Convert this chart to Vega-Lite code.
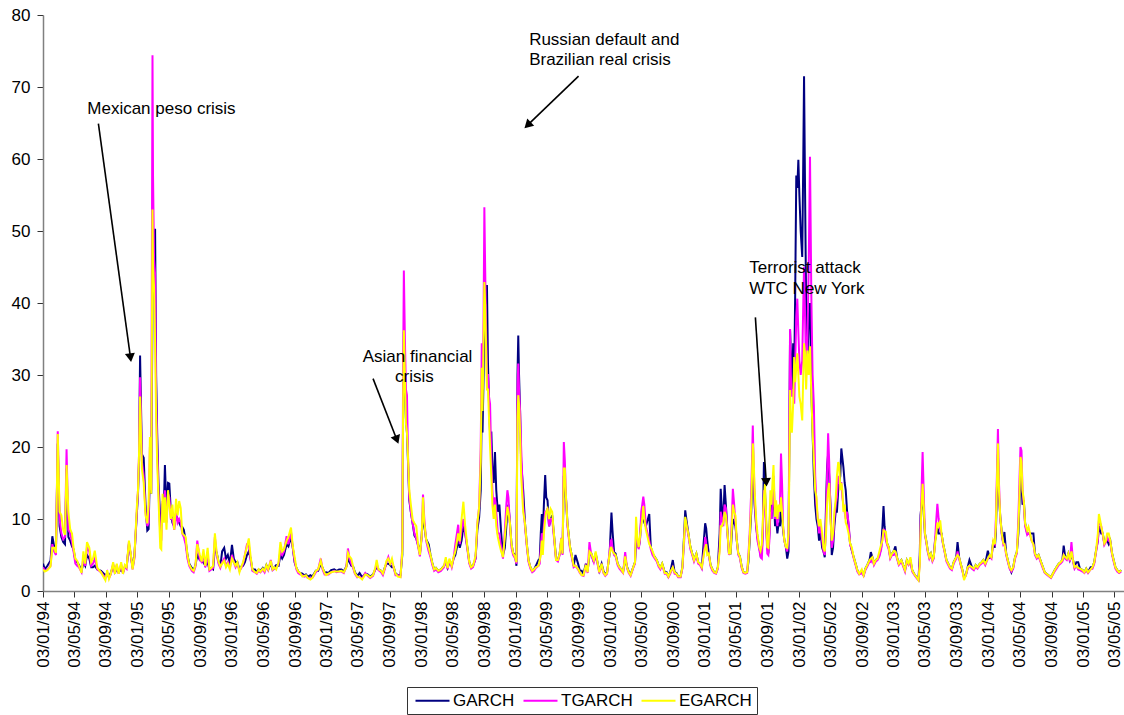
{
  "$schema": "https://vega.github.io/schema/vega-lite/v6.json",
  "width": 1081,
  "height": 576,
  "autosize": {"type": "none"},
  "padding": {"left": 43, "top": 15, "right": 0, "bottom": 124},
  "background": "white",
  "config": {
    "font": "Liberation Sans",
    "view": {"stroke": null},
    "axis": {"labelFontSize": 17, "labelColor": "black", "labelFont": "Liberation Sans", "grid": false, "tickSize": 6, "tickColor": "#333333", "domainColor": "#808080", "domainWidth": 1.5}
  },
  "datasets": {
    "vol": [
{"d":"1994-01-03","g":3.8,"t":3.3,"e":3.0},
{"d":"1994-01-10","g":3.0,"t":2.8,"e":2.7},
{"d":"1994-01-20","g":3.5,"t":3.0,"e":2.9},
{"d":"1994-02-01","g":4.2,"t":3.5,"e":3.4},
{"d":"1994-02-08","g":7.6,"t":6.5,"e":6.0},
{"d":"1994-02-15","g":6.2,"t":5.5,"e":6.0},
{"d":"1994-02-22","g":5.8,"t":5.0,"e":5.3},
{"d":"1994-03-01","g":20.5,"t":22.2,"e":21.8},
{"d":"1994-03-08","g":9.0,"t":10.0,"e":11.0},
{"d":"1994-03-15","g":7.5,"t":8.0,"e":10.5},
{"d":"1994-03-22","g":6.8,"t":7.2,"e":8.5},
{"d":"1994-03-29","g":6.5,"t":7.5,"e":7.8},
{"d":"1994-04-04","g":17.0,"t":19.7,"e":17.5},
{"d":"1994-04-11","g":7.5,"t":8.5,"e":11.0},
{"d":"1994-04-18","g":7.0,"t":8.0,"e":8.6},
{"d":"1994-04-25","g":6.2,"t":6.8,"e":8.0},
{"d":"1994-05-01","g":5.8,"t":5.5,"e":6.0},
{"d":"1994-05-08","g":4.3,"t":3.8,"e":4.5},
{"d":"1994-05-15","g":4.0,"t":3.5,"e":4.2},
{"d":"1994-05-22","g":3.6,"t":3.3,"e":3.5},
{"d":"1994-06-01","g":2.8,"t":2.6,"e":2.5},
{"d":"1994-06-08","g":4.0,"t":4.6,"e":5.5},
{"d":"1994-06-15","g":3.5,"t":3.5,"e":3.8},
{"d":"1994-06-22","g":5.0,"t":6.0,"e":6.8},
{"d":"1994-07-01","g":4.5,"t":5.5,"e":6.0},
{"d":"1994-07-08","g":3.3,"t":3.5,"e":4.0},
{"d":"1994-07-15","g":3.3,"t":3.8,"e":4.5},
{"d":"1994-07-22","g":3.5,"t":4.5,"e":5.6},
{"d":"1994-08-01","g":3.0,"t":3.0,"e":3.2},
{"d":"1994-08-15","g":2.8,"t":2.6,"e":2.6},
{"d":"1994-09-01","g":2.2,"t":1.8,"e":1.5},
{"d":"1994-09-08","g":2.4,"t":2.6,"e":2.9},
{"d":"1994-09-15","g":2.0,"t":1.8,"e":1.7},
{"d":"1994-09-22","g":2.5,"t":2.3,"e":2.4},
{"d":"1994-10-01","g":3.5,"t":3.8,"e":4.0},
{"d":"1994-10-08","g":2.6,"t":2.4,"e":2.4},
{"d":"1994-10-15","g":3.0,"t":3.6,"e":3.8},
{"d":"1994-10-22","g":2.6,"t":2.4,"e":2.4},
{"d":"1994-11-01","g":3.0,"t":3.7,"e":4.0},
{"d":"1994-11-08","g":2.6,"t":2.4,"e":2.4},
{"d":"1994-11-15","g":3.3,"t":3.4,"e":3.6},
{"d":"1994-11-22","g":3.3,"t":3.1,"e":3.3},
{"d":"1994-12-01","g":6.5,"t":6.8,"e":7.0},
{"d":"1994-12-08","g":5.0,"t":5.0,"e":5.2},
{"d":"1994-12-15","g":3.3,"t":3.0,"e":3.0},
{"d":"1994-12-22","g":4.8,"t":4.5,"e":4.7},
{"d":"1995-01-01","g":11.0,"t":11.5,"e":12.0},
{"d":"1995-01-05","g":13.5,"t":14.0,"e":14.0},
{"d":"1995-01-09","g":18.0,"t":19.0,"e":19.1},
{"d":"1995-01-13","g":32.7,"t":29.7,"e":27.0},
{"d":"1995-01-20","g":19.0,"t":18.0,"e":17.0},
{"d":"1995-01-27","g":18.5,"t":16.0,"e":15.0},
{"d":"1995-02-03","g":12.0,"t":11.0,"e":10.5},
{"d":"1995-02-10","g":8.4,"t":9.0,"e":9.4},
{"d":"1995-02-15","g":8.6,"t":9.5,"e":12.0},
{"d":"1995-02-20","g":17.0,"t":20.0,"e":21.4},
{"d":"1995-02-25","g":13.5,"t":14.0,"e":13.5},
{"d":"1995-03-02","g":40.0,"t":74.4,"e":53.0},
{"d":"1995-03-04","g":42.0,"t":57.7,"e":45.0},
{"d":"1995-03-08","g":45.0,"t":46.0,"e":42.2},
{"d":"1995-03-12","g":50.3,"t":44.0,"e":34.6},
{"d":"1995-03-16","g":30.0,"t":27.0,"e":24.0},
{"d":"1995-03-20","g":22.0,"t":20.0,"e":18.0},
{"d":"1995-03-25","g":15.0,"t":14.0,"e":13.0},
{"d":"1995-04-01","g":10.0,"t":8.0,"e":6.0},
{"d":"1995-04-05","g":9.0,"t":7.0,"e":5.8},
{"d":"1995-04-10","g":12.0,"t":12.5,"e":13.5},
{"d":"1995-04-15","g":12.0,"t":11.0,"e":9.5},
{"d":"1995-04-19","g":17.5,"t":14.0,"e":13.0},
{"d":"1995-04-25","g":11.0,"t":9.5,"e":8.5},
{"d":"1995-05-01","g":15.0,"t":13.5,"e":14.0},
{"d":"1995-05-06","g":14.9,"t":13.0,"e":12.0},
{"d":"1995-05-12","g":11.0,"t":10.0,"e":10.0},
{"d":"1995-05-18","g":9.5,"t":10.0,"e":12.0},
{"d":"1995-05-25","g":9.0,"t":8.5,"e":8.5},
{"d":"1995-06-01","g":10.5,"t":11.0,"e":12.8},
{"d":"1995-06-07","g":10.0,"t":9.5,"e":10.5},
{"d":"1995-06-13","g":9.5,"t":10.0,"e":12.5},
{"d":"1995-06-19","g":9.0,"t":9.5,"e":11.5},
{"d":"1995-06-25","g":8.9,"t":8.0,"e":8.0},
{"d":"1995-07-01","g":8.5,"t":7.5,"e":7.8},
{"d":"1995-07-08","g":7.0,"t":6.5,"e":7.5},
{"d":"1995-07-15","g":5.0,"t":4.5,"e":5.0},
{"d":"1995-07-22","g":3.8,"t":3.5,"e":3.7},
{"d":"1995-08-01","g":3.2,"t":2.8,"e":3.0},
{"d":"1995-08-08","g":2.9,"t":2.6,"e":2.8},
{"d":"1995-08-15","g":3.6,"t":3.4,"e":3.6},
{"d":"1995-08-22","g":5.0,"t":7.0,"e":6.5},
{"d":"1995-09-01","g":4.3,"t":4.3,"e":5.0},
{"d":"1995-09-08","g":4.1,"t":4.0,"e":4.1},
{"d":"1995-09-15","g":4.0,"t":5.0,"e":5.8},
{"d":"1995-09-22","g":3.5,"t":3.3,"e":3.5},
{"d":"1995-10-01","g":4.0,"t":5.0,"e":6.0},
{"d":"1995-10-08","g":3.0,"t":2.8,"e":3.0},
{"d":"1995-10-15","g":3.2,"t":3.0,"e":3.2},
{"d":"1995-10-22","g":3.0,"t":3.2,"e":3.5},
{"d":"1995-10-29","g":6.0,"t":7.5,"e":8.0},
{"d":"1995-11-05","g":5.3,"t":5.0,"e":5.3},
{"d":"1995-11-12","g":4.1,"t":3.8,"e":4.1},
{"d":"1995-11-19","g":3.4,"t":3.2,"e":3.4},
{"d":"1995-11-26","g":5.5,"t":4.0,"e":3.8},
{"d":"1995-12-04","g":6.0,"t":4.5,"e":4.2},
{"d":"1995-12-11","g":4.5,"t":3.5,"e":3.3},
{"d":"1995-12-18","g":5.0,"t":4.0,"e":3.8},
{"d":"1995-12-26","g":3.8,"t":3.2,"e":3.0},
{"d":"1996-01-03","g":6.4,"t":5.0,"e":4.5},
{"d":"1996-01-10","g":4.5,"t":4.0,"e":4.0},
{"d":"1996-01-17","g":4.0,"t":3.3,"e":3.5},
{"d":"1996-01-24","g":4.0,"t":3.8,"e":4.0},
{"d":"1996-02-01","g":3.0,"t":2.8,"e":2.6},
{"d":"1996-02-08","g":3.4,"t":3.2,"e":3.4},
{"d":"1996-02-15","g":3.5,"t":3.8,"e":4.0},
{"d":"1996-02-22","g":4.0,"t":5.0,"e":5.0},
{"d":"1996-03-01","g":5.0,"t":6.5,"e":6.2},
{"d":"1996-03-08","g":5.5,"t":6.5,"e":7.3},
{"d":"1996-03-15","g":4.5,"t":4.3,"e":4.8},
{"d":"1996-03-22","g":3.0,"t":2.8,"e":3.0},
{"d":"1996-04-01","g":3.0,"t":2.6,"e":2.6},
{"d":"1996-04-08","g":2.6,"t":2.4,"e":2.5},
{"d":"1996-04-15","g":3.0,"t":2.8,"e":3.0},
{"d":"1996-04-22","g":2.8,"t":2.6,"e":2.7},
{"d":"1996-05-01","g":3.2,"t":3.0,"e":3.1},
{"d":"1996-05-08","g":2.8,"t":2.6,"e":2.8},
{"d":"1996-05-15","g":3.6,"t":3.4,"e":3.6},
{"d":"1996-05-22","g":3.0,"t":2.9,"e":3.0},
{"d":"1996-06-01","g":3.8,"t":4.3,"e":4.2},
{"d":"1996-06-08","g":3.0,"t":2.9,"e":3.0},
{"d":"1996-06-15","g":3.3,"t":3.1,"e":3.3},
{"d":"1996-06-22","g":3.6,"t":3.2,"e":3.0},
{"d":"1996-07-01","g":3.5,"t":3.8,"e":4.0},
{"d":"1996-07-08","g":5.0,"t":5.5,"e":6.8},
{"d":"1996-07-15","g":4.5,"t":5.0,"e":5.5},
{"d":"1996-07-22","g":5.0,"t":5.5,"e":5.8},
{"d":"1996-08-01","g":6.5,"t":7.6,"e":7.0},
{"d":"1996-08-08","g":6.2,"t":6.5,"e":7.5},
{"d":"1996-08-18","g":7.5,"t":8.2,"e":8.8},
{"d":"1996-08-25","g":6.0,"t":6.0,"e":6.2},
{"d":"1996-09-01","g":4.0,"t":4.2,"e":4.7},
{"d":"1996-09-08","g":3.2,"t":3.0,"e":3.2},
{"d":"1996-09-15","g":2.7,"t":2.5,"e":2.7},
{"d":"1996-09-22","g":2.5,"t":2.3,"e":2.5},
{"d":"1996-10-01","g":2.4,"t":2.2,"e":2.0},
{"d":"1996-10-08","g":2.2,"t":2.0,"e":2.1},
{"d":"1996-10-15","g":2.3,"t":2.1,"e":2.2},
{"d":"1996-10-22","g":2.0,"t":1.8,"e":1.8},
{"d":"1996-11-01","g":2.2,"t":1.8,"e":1.6},
{"d":"1996-11-08","g":2.0,"t":1.8,"e":1.8},
{"d":"1996-11-15","g":2.4,"t":2.2,"e":2.3},
{"d":"1996-11-22","g":2.8,"t":2.6,"e":2.8},
{"d":"1996-12-01","g":2.8,"t":3.0,"e":3.0},
{"d":"1996-12-11","g":3.8,"t":4.5,"e":4.2},
{"d":"1996-12-18","g":3.2,"t":3.0,"e":3.2},
{"d":"1996-12-26","g":2.5,"t":2.3,"e":2.5},
{"d":"1997-01-01","g":2.6,"t":2.3,"e":2.2},
{"d":"1997-01-10","g":2.5,"t":2.3,"e":2.4},
{"d":"1997-01-20","g":2.9,"t":2.6,"e":2.6},
{"d":"1997-02-01","g":3.0,"t":2.8,"e":2.7},
{"d":"1997-02-10","g":2.8,"t":2.6,"e":2.7},
{"d":"1997-02-20","g":3.0,"t":2.7,"e":2.7},
{"d":"1997-03-01","g":3.0,"t":2.7,"e":2.8},
{"d":"1997-03-10","g":2.7,"t":2.5,"e":2.6},
{"d":"1997-03-20","g":3.4,"t":3.4,"e":3.3},
{"d":"1997-03-26","g":4.5,"t":5.9,"e":5.3},
{"d":"1997-04-01","g":4.0,"t":4.5,"e":4.8},
{"d":"1997-04-08","g":3.5,"t":3.8,"e":4.5},
{"d":"1997-04-15","g":3.4,"t":3.2,"e":3.4},
{"d":"1997-04-22","g":2.6,"t":2.4,"e":2.5},
{"d":"1997-05-01","g":2.1,"t":1.9,"e":2.0},
{"d":"1997-05-10","g":2.5,"t":2.0,"e":1.9},
{"d":"1997-05-20","g":1.9,"t":1.7,"e":1.6},
{"d":"1997-06-01","g":2.4,"t":2.5,"e":2.3},
{"d":"1997-06-10","g":2.3,"t":2.1,"e":2.2},
{"d":"1997-06-20","g":2.0,"t":1.8,"e":1.9},
{"d":"1997-07-01","g":2.3,"t":2.1,"e":2.2},
{"d":"1997-07-10","g":3.0,"t":3.1,"e":3.3},
{"d":"1997-07-15","g":3.3,"t":3.8,"e":4.3},
{"d":"1997-07-22","g":3.0,"t":2.9,"e":3.0},
{"d":"1997-08-01","g":2.8,"t":2.6,"e":2.8},
{"d":"1997-08-08","g":2.4,"t":2.2,"e":2.4},
{"d":"1997-08-15","g":3.2,"t":3.0,"e":3.2},
{"d":"1997-08-22","g":3.8,"t":4.0,"e":4.2},
{"d":"1997-08-29","g":3.8,"t":4.7,"e":4.5},
{"d":"1997-09-05","g":3.6,"t":3.8,"e":3.8},
{"d":"1997-09-12","g":3.3,"t":4.0,"e":4.5},
{"d":"1997-09-19","g":3.3,"t":3.2,"e":3.3},
{"d":"1997-09-26","g":2.4,"t":2.2,"e":2.4},
{"d":"1997-10-05","g":2.2,"t":2.2,"e":2.0},
{"d":"1997-10-15","g":2.2,"t":2.0,"e":1.9},
{"d":"1997-10-22","g":5.0,"t":6.0,"e":5.5},
{"d":"1997-10-25","g":24.0,"t":30.0,"e":25.0},
{"d":"1997-10-28","g":36.0,"t":44.5,"e":36.2},
{"d":"1997-11-01","g":30.0,"t":35.0,"e":30.0},
{"d":"1997-11-05","g":24.0,"t":28.0,"e":23.3},
{"d":"1997-11-09","g":22.0,"t":27.2,"e":22.0},
{"d":"1997-11-13","g":18.0,"t":19.0,"e":18.6},
{"d":"1997-11-18","g":12.6,"t":13.0,"e":14.0},
{"d":"1997-11-24","g":11.0,"t":11.0,"e":12.0},
{"d":"1997-12-01","g":9.4,"t":9.4,"e":9.9},
{"d":"1997-12-08","g":7.7,"t":8.0,"e":9.4},
{"d":"1997-12-15","g":7.3,"t":7.3,"e":9.0},
{"d":"1997-12-22","g":6.4,"t":6.2,"e":6.4},
{"d":"1997-12-29","g":5.2,"t":4.8,"e":5.0},
{"d":"1998-01-05","g":7.7,"t":7.5,"e":7.7},
{"d":"1998-01-10","g":11.0,"t":13.4,"e":13.0},
{"d":"1998-01-15","g":9.0,"t":10.0,"e":9.5},
{"d":"1998-01-22","g":7.2,"t":7.0,"e":7.2},
{"d":"1998-02-01","g":6.5,"t":5.5,"e":6.0},
{"d":"1998-02-08","g":5.0,"t":4.7,"e":5.0},
{"d":"1998-02-15","g":3.9,"t":3.6,"e":3.9},
{"d":"1998-02-22","g":3.0,"t":2.8,"e":3.0},
{"d":"1998-03-01","g":3.2,"t":3.0,"e":3.2},
{"d":"1998-03-10","g":2.8,"t":2.6,"e":2.8},
{"d":"1998-03-20","g":3.0,"t":2.8,"e":3.0},
{"d":"1998-04-01","g":3.5,"t":3.3,"e":3.5},
{"d":"1998-04-08","g":4.0,"t":4.3,"e":4.7},
{"d":"1998-04-15","g":3.2,"t":3.0,"e":3.2},
{"d":"1998-04-22","g":4.0,"t":4.3,"e":4.5},
{"d":"1998-05-01","g":3.5,"t":3.3,"e":3.5},
{"d":"1998-05-08","g":4.5,"t":4.5,"e":4.7},
{"d":"1998-05-15","g":5.0,"t":6.5,"e":5.5},
{"d":"1998-05-26","g":7.0,"t":9.2,"e":8.0},
{"d":"1998-06-01","g":6.0,"t":6.5,"e":6.9},
{"d":"1998-06-08","g":7.0,"t":8.5,"e":10.0},
{"d":"1998-06-15","g":9.0,"t":10.0,"e":12.4},
{"d":"1998-06-22","g":8.0,"t":8.0,"e":9.0},
{"d":"1998-07-01","g":5.9,"t":5.6,"e":5.9},
{"d":"1998-07-08","g":4.0,"t":3.8,"e":4.0},
{"d":"1998-07-15","g":3.3,"t":3.1,"e":3.3},
{"d":"1998-07-22","g":3.5,"t":3.3,"e":3.5},
{"d":"1998-08-01","g":4.5,"t":4.5,"e":4.9},
{"d":"1998-08-08","g":8.5,"t":9.4,"e":9.4},
{"d":"1998-08-15","g":10.3,"t":11.7,"e":11.7},
{"d":"1998-08-21","g":14.0,"t":20.0,"e":18.0},
{"d":"1998-08-25","g":26.0,"t":34.4,"e":31.0},
{"d":"1998-08-28","g":22.0,"t":28.0,"e":25.0},
{"d":"1998-09-01","g":30.0,"t":38.0,"e":35.0},
{"d":"1998-09-04","g":38.0,"t":53.3,"e":42.9},
{"d":"1998-09-07","g":40.0,"t":45.0,"e":40.0},
{"d":"1998-09-10","g":40.0,"t":38.0,"e":35.0},
{"d":"1998-09-14","g":42.5,"t":30.0,"e":28.0},
{"d":"1998-09-18","g":31.6,"t":30.0,"e":28.0},
{"d":"1998-09-22","g":26.0,"t":27.0,"e":24.0},
{"d":"1998-09-26","g":22.0,"t":26.0,"e":20.0},
{"d":"1998-10-01","g":22.0,"t":18.0,"e":16.0},
{"d":"1998-10-05","g":17.0,"t":14.0,"e":12.0},
{"d":"1998-10-10","g":15.0,"t":11.0,"e":10.0},
{"d":"1998-10-15","g":19.3,"t":13.0,"e":12.0},
{"d":"1998-10-20","g":14.0,"t":11.0,"e":9.0},
{"d":"1998-10-26","g":11.0,"t":8.0,"e":7.5},
{"d":"1998-11-01","g":12.0,"t":8.0,"e":6.5},
{"d":"1998-11-08","g":8.0,"t":6.0,"e":5.5},
{"d":"1998-11-15","g":5.0,"t":4.5,"e":4.7},
{"d":"1998-11-22","g":6.0,"t":8.4,"e":7.5},
{"d":"1998-11-28","g":9.0,"t":12.0,"e":10.0},
{"d":"1998-12-02","g":11.0,"t":14.0,"e":11.7},
{"d":"1998-12-06","g":12.0,"t":13.0,"e":11.0},
{"d":"1998-12-12","g":9.4,"t":9.0,"e":9.4},
{"d":"1998-12-18","g":6.5,"t":6.0,"e":6.5},
{"d":"1998-12-24","g":5.3,"t":5.0,"e":5.3},
{"d":"1999-01-01","g":5.0,"t":4.5,"e":4.7},
{"d":"1999-01-06","g":3.5,"t":3.8,"e":4.0},
{"d":"1999-01-10","g":30.0,"t":28.0,"e":24.0},
{"d":"1999-01-13","g":35.5,"t":31.6,"e":27.2},
{"d":"1999-01-16","g":30.0,"t":28.0,"e":26.0},
{"d":"1999-01-20","g":25.0,"t":25.0,"e":22.0},
{"d":"1999-01-24","g":18.0,"t":20.0,"e":16.0},
{"d":"1999-02-01","g":14.0,"t":12.0,"e":11.0},
{"d":"1999-02-08","g":9.4,"t":9.0,"e":9.4},
{"d":"1999-02-15","g":6.5,"t":6.2,"e":6.5},
{"d":"1999-02-22","g":4.2,"t":4.0,"e":4.2},
{"d":"1999-03-01","g":3.3,"t":3.1,"e":3.3},
{"d":"1999-03-08","g":2.8,"t":2.6,"e":2.8},
{"d":"1999-03-15","g":3.0,"t":2.8,"e":3.0},
{"d":"1999-03-22","g":3.5,"t":3.2,"e":3.3},
{"d":"1999-04-01","g":4.3,"t":3.5,"e":3.5},
{"d":"1999-04-06","g":4.5,"t":3.8,"e":4.3},
{"d":"1999-04-10","g":8.0,"t":6.0,"e":5.0},
{"d":"1999-04-14","g":10.7,"t":8.0,"e":7.0},
{"d":"1999-04-18","g":8.0,"t":6.5,"e":5.0},
{"d":"1999-04-22","g":12.0,"t":9.0,"e":8.0},
{"d":"1999-04-27","g":16.1,"t":11.0,"e":10.0},
{"d":"1999-05-01","g":13.0,"t":11.0,"e":11.0},
{"d":"1999-05-06","g":12.6,"t":11.5,"e":11.4},
{"d":"1999-05-12","g":9.0,"t":9.0,"e":10.0},
{"d":"1999-05-18","g":10.0,"t":10.0,"e":11.4},
{"d":"1999-05-24","g":10.5,"t":10.0,"e":11.0},
{"d":"1999-06-01","g":7.4,"t":7.0,"e":7.4},
{"d":"1999-06-08","g":4.5,"t":4.3,"e":4.3},
{"d":"1999-06-15","g":4.3,"t":4.1,"e":4.3},
{"d":"1999-06-22","g":5.2,"t":5.0,"e":5.2},
{"d":"1999-06-28","g":7.0,"t":7.4,"e":7.3},
{"d":"1999-07-03","g":5.2,"t":5.0,"e":5.2},
{"d":"1999-07-08","g":16.0,"t":20.7,"e":17.0},
{"d":"1999-07-12","g":15.0,"t":18.0,"e":17.0},
{"d":"1999-07-16","g":13.0,"t":13.3,"e":13.3},
{"d":"1999-07-22","g":9.4,"t":9.0,"e":9.4},
{"d":"1999-08-01","g":6.1,"t":5.8,"e":6.1},
{"d":"1999-08-08","g":4.9,"t":4.6,"e":4.9},
{"d":"1999-08-15","g":3.5,"t":3.3,"e":3.5},
{"d":"1999-08-22","g":5.0,"t":3.5,"e":3.5},
{"d":"1999-09-01","g":3.8,"t":3.0,"e":3.1},
{"d":"1999-09-08","g":2.8,"t":2.5,"e":2.6},
{"d":"1999-09-15","g":2.8,"t":2.2,"e":2.2},
{"d":"1999-09-22","g":2.4,"t":2.1,"e":2.2},
{"d":"1999-10-01","g":3.8,"t":3.4,"e":3.6},
{"d":"1999-10-08","g":2.8,"t":2.5,"e":2.6},
{"d":"1999-10-15","g":5.0,"t":6.8,"e":5.5},
{"d":"1999-10-22","g":5.2,"t":5.0,"e":5.2},
{"d":"1999-11-01","g":4.0,"t":4.0,"e":4.3},
{"d":"1999-11-08","g":5.2,"t":5.0,"e":5.5},
{"d":"1999-11-15","g":4.0,"t":3.8,"e":4.0},
{"d":"1999-11-22","g":2.8,"t":2.5,"e":2.6},
{"d":"1999-12-01","g":3.8,"t":3.5,"e":3.8},
{"d":"1999-12-08","g":2.8,"t":2.5,"e":2.6},
{"d":"1999-12-15","g":2.3,"t":2.1,"e":2.2},
{"d":"1999-12-22","g":2.6,"t":2.4,"e":2.5},
{"d":"2000-01-01","g":5.2,"t":5.5,"e":5.2},
{"d":"2000-01-05","g":8.5,"t":7.0,"e":6.0},
{"d":"2000-01-08","g":10.9,"t":7.1,"e":6.0},
{"d":"2000-01-12","g":8.4,"t":6.0,"e":5.5},
{"d":"2000-01-18","g":5.4,"t":5.0,"e":5.2},
{"d":"2000-01-24","g":5.2,"t":4.8,"e":5.0},
{"d":"2000-02-01","g":3.8,"t":3.6,"e":3.8},
{"d":"2000-02-08","g":3.3,"t":3.1,"e":3.3},
{"d":"2000-02-15","g":3.0,"t":2.8,"e":3.0},
{"d":"2000-02-22","g":2.7,"t":2.5,"e":2.6},
{"d":"2000-03-01","g":4.5,"t":5.4,"e":4.8},
{"d":"2000-03-08","g":3.4,"t":3.2,"e":3.3},
{"d":"2000-03-15","g":2.7,"t":2.5,"e":2.6},
{"d":"2000-03-22","g":2.3,"t":2.1,"e":2.2},
{"d":"2000-04-01","g":3.3,"t":3.2,"e":3.3},
{"d":"2000-04-08","g":4.0,"t":3.8,"e":4.0},
{"d":"2000-04-12","g":7.0,"t":8.0,"e":10.3},
{"d":"2000-04-17","g":7.0,"t":7.2,"e":7.5},
{"d":"2000-04-22","g":6.0,"t":5.8,"e":6.1},
{"d":"2000-04-27","g":7.0,"t":7.0,"e":7.5},
{"d":"2000-05-02","g":10.0,"t":11.0,"e":9.0},
{"d":"2000-05-06","g":11.0,"t":12.0,"e":10.0},
{"d":"2000-05-10","g":10.0,"t":13.1,"e":11.8},
{"d":"2000-05-14","g":9.5,"t":12.0,"e":10.0},
{"d":"2000-05-20","g":9.0,"t":9.0,"e":8.5},
{"d":"2000-06-02","g":10.7,"t":7.0,"e":6.5},
{"d":"2000-06-08","g":6.1,"t":5.8,"e":6.1},
{"d":"2000-06-15","g":5.2,"t":5.0,"e":5.5},
{"d":"2000-06-22","g":4.8,"t":4.6,"e":4.8},
{"d":"2000-07-01","g":4.3,"t":4.1,"e":4.3},
{"d":"2000-07-08","g":3.6,"t":3.4,"e":3.6},
{"d":"2000-07-15","g":3.2,"t":3.0,"e":3.2},
{"d":"2000-07-22","g":3.8,"t":3.6,"e":3.8},
{"d":"2000-08-01","g":2.6,"t":2.4,"e":2.5},
{"d":"2000-08-08","g":2.6,"t":2.4,"e":2.5},
{"d":"2000-08-15","g":2.0,"t":1.9,"e":2.0},
{"d":"2000-08-22","g":2.6,"t":2.4,"e":2.6},
{"d":"2000-09-01","g":4.3,"t":3.3,"e":3.3},
{"d":"2000-09-08","g":2.6,"t":2.4,"e":2.6},
{"d":"2000-09-15","g":2.5,"t":2.3,"e":2.4},
{"d":"2000-09-22","g":2.0,"t":1.9,"e":2.0},
{"d":"2000-10-01","g":2.0,"t":1.9,"e":2.0},
{"d":"2000-10-08","g":3.3,"t":3.1,"e":3.3},
{"d":"2000-10-15","g":8.0,"t":7.0,"e":7.5},
{"d":"2000-10-19","g":11.2,"t":10.0,"e":10.3},
{"d":"2000-10-25","g":9.5,"t":9.0,"e":9.0},
{"d":"2000-11-01","g":7.8,"t":7.5,"e":7.8},
{"d":"2000-11-08","g":6.1,"t":5.8,"e":6.1},
{"d":"2000-11-15","g":5.2,"t":5.0,"e":5.2},
{"d":"2000-11-22","g":4.3,"t":4.1,"e":4.3},
{"d":"2000-12-01","g":5.2,"t":5.0,"e":5.2},
{"d":"2000-12-08","g":4.0,"t":3.8,"e":4.0},
{"d":"2000-12-15","g":3.8,"t":3.6,"e":3.8},
{"d":"2000-12-22","g":3.3,"t":3.1,"e":3.3},
{"d":"2001-01-01","g":8.0,"t":6.0,"e":5.5},
{"d":"2001-01-04","g":9.4,"t":7.5,"e":6.0},
{"d":"2001-01-08","g":8.7,"t":6.5,"e":6.5},
{"d":"2001-01-12","g":7.0,"t":5.5,"e":5.0},
{"d":"2001-01-18","g":5.2,"t":5.0,"e":5.2},
{"d":"2001-01-25","g":3.6,"t":3.4,"e":3.6},
{"d":"2001-02-01","g":3.0,"t":2.8,"e":3.0},
{"d":"2001-02-08","g":2.6,"t":2.5,"e":2.6},
{"d":"2001-02-15","g":2.5,"t":2.4,"e":2.5},
{"d":"2001-02-22","g":3.3,"t":3.1,"e":3.3},
{"d":"2001-03-01","g":8.0,"t":6.0,"e":5.5},
{"d":"2001-03-05","g":14.2,"t":11.0,"e":9.0},
{"d":"2001-03-10","g":11.0,"t":10.0,"e":9.0},
{"d":"2001-03-15","g":10.0,"t":9.0,"e":9.5},
{"d":"2001-03-20","g":14.7,"t":12.0,"e":11.0},
{"d":"2001-03-25","g":12.0,"t":11.5,"e":10.5},
{"d":"2001-04-01","g":7.8,"t":7.5,"e":7.8},
{"d":"2001-04-06","g":5.2,"t":5.0,"e":5.2},
{"d":"2001-04-12","g":5.2,"t":6.0,"e":5.2},
{"d":"2001-04-17","g":8.0,"t":10.0,"e":9.0},
{"d":"2001-04-21","g":10.0,"t":14.2,"e":12.0},
{"d":"2001-04-26","g":9.5,"t":12.0,"e":11.0},
{"d":"2001-05-01","g":9.0,"t":9.5,"e":10.5},
{"d":"2001-05-06","g":7.1,"t":7.0,"e":7.1},
{"d":"2001-05-12","g":5.2,"t":5.0,"e":5.2},
{"d":"2001-05-18","g":4.8,"t":4.6,"e":4.8},
{"d":"2001-05-25","g":3.4,"t":3.2,"e":3.4},
{"d":"2001-06-01","g":2.6,"t":2.5,"e":2.6},
{"d":"2001-06-08","g":2.5,"t":2.4,"e":2.5},
{"d":"2001-06-15","g":2.6,"t":2.5,"e":2.6},
{"d":"2001-06-20","g":4.0,"t":5.0,"e":4.5},
{"d":"2001-06-25","g":7.0,"t":8.0,"e":7.5},
{"d":"2001-07-01","g":11.0,"t":14.0,"e":12.0},
{"d":"2001-07-04","g":15.0,"t":18.0,"e":16.0},
{"d":"2001-07-07","g":19.0,"t":23.0,"e":20.5},
{"d":"2001-07-10","g":16.0,"t":18.0,"e":19.0},
{"d":"2001-07-14","g":12.0,"t":13.0,"e":14.0},
{"d":"2001-07-20","g":9.0,"t":9.0,"e":10.0},
{"d":"2001-07-25","g":7.5,"t":7.0,"e":8.0},
{"d":"2001-08-01","g":6.1,"t":5.8,"e":6.1},
{"d":"2001-08-06","g":5.0,"t":4.7,"e":5.6},
{"d":"2001-08-11","g":5.5,"t":4.5,"e":6.5},
{"d":"2001-08-15","g":9.0,"t":8.0,"e":10.0},
{"d":"2001-08-19","g":17.9,"t":14.0,"e":13.0},
{"d":"2001-08-23","g":14.0,"t":13.0,"e":14.9},
{"d":"2001-08-28","g":9.0,"t":8.5,"e":10.0},
{"d":"2001-09-01","g":6.1,"t":5.2,"e":6.1},
{"d":"2001-09-05","g":5.2,"t":5.0,"e":6.0},
{"d":"2001-09-09","g":8.0,"t":7.0,"e":9.0},
{"d":"2001-09-13","g":12.0,"t":11.0,"e":14.0},
{"d":"2001-09-17","g":10.0,"t":10.0,"e":12.0},
{"d":"2001-09-21","g":12.0,"t":12.0,"e":15.0},
{"d":"2001-09-25","g":14.0,"t":16.0,"e":17.5},
{"d":"2001-10-01","g":9.0,"t":10.0,"e":10.3},
{"d":"2001-10-05","g":10.0,"t":11.0,"e":12.6},
{"d":"2001-10-10","g":8.0,"t":9.0,"e":10.0},
{"d":"2001-10-15","g":9.5,"t":11.0,"e":12.0},
{"d":"2001-10-20","g":9.0,"t":12.0,"e":11.0},
{"d":"2001-10-24","g":12.0,"t":19.1,"e":13.0},
{"d":"2001-10-28","g":10.0,"t":15.0,"e":11.0},
{"d":"2001-11-01","g":8.5,"t":9.0,"e":9.0},
{"d":"2001-11-06","g":7.0,"t":7.0,"e":7.0},
{"d":"2001-11-12","g":6.1,"t":6.0,"e":6.1},
{"d":"2001-11-17","g":4.5,"t":5.5,"e":6.0},
{"d":"2001-11-22","g":5.5,"t":7.0,"e":8.0},
{"d":"2001-11-25","g":20.0,"t":22.0,"e":16.0},
{"d":"2001-11-28","g":36.2,"t":36.4,"e":27.9},
{"d":"2001-12-01","g":33.0,"t":30.0,"e":24.0},
{"d":"2001-12-05","g":28.0,"t":27.0,"e":22.0},
{"d":"2001-12-10","g":34.4,"t":28.0,"e":26.0},
{"d":"2001-12-14","g":30.0,"t":26.0,"e":32.5},
{"d":"2001-12-18","g":42.0,"t":32.0,"e":29.0},
{"d":"2001-12-22","g":57.7,"t":38.0,"e":31.0},
{"d":"2001-12-26","g":56.0,"t":40.6,"e":33.0},
{"d":"2001-12-30","g":59.9,"t":36.0,"e":30.0},
{"d":"2002-01-03","g":55.0,"t":32.0,"e":27.0},
{"d":"2002-01-08","g":50.0,"t":30.0,"e":26.0},
{"d":"2002-01-14","g":46.4,"t":32.0,"e":23.7},
{"d":"2002-01-18","g":60.0,"t":40.0,"e":30.0},
{"d":"2002-01-21","g":71.5,"t":45.0,"e":34.4},
{"d":"2002-01-25","g":55.2,"t":38.0,"e":33.0},
{"d":"2002-01-29","g":40.0,"t":30.0,"e":28.0},
{"d":"2002-02-03","g":32.0,"t":35.0,"e":33.4},
{"d":"2002-02-08","g":38.0,"t":45.0,"e":30.0},
{"d":"2002-02-13","g":40.0,"t":60.3,"e":34.0},
{"d":"2002-02-18","g":28.0,"t":41.3,"e":27.4},
{"d":"2002-02-23","g":22.0,"t":30.0,"e":22.0},
{"d":"2002-02-28","g":16.0,"t":25.8,"e":18.2},
{"d":"2002-03-05","g":12.0,"t":16.0,"e":14.0},
{"d":"2002-03-10","g":10.0,"t":12.0,"e":13.0},
{"d":"2002-03-15","g":9.0,"t":10.0,"e":10.0},
{"d":"2002-03-20","g":7.0,"t":8.0,"e":9.0},
{"d":"2002-03-25","g":8.5,"t":9.0,"e":10.0},
{"d":"2002-04-01","g":6.0,"t":7.0,"e":8.0},
{"d":"2002-04-06","g":5.5,"t":5.5,"e":6.0},
{"d":"2002-04-11","g":4.7,"t":5.0,"e":5.5},
{"d":"2002-04-16","g":12.0,"t":10.0,"e":8.0},
{"d":"2002-04-20","g":17.2,"t":16.0,"e":12.0},
{"d":"2002-04-24","g":19.0,"t":21.9,"e":14.0},
{"d":"2002-04-28","g":16.0,"t":18.0,"e":15.0},
{"d":"2002-05-03","g":12.0,"t":11.0,"e":10.0},
{"d":"2002-05-08","g":5.0,"t":6.0,"e":7.0},
{"d":"2002-05-13","g":6.0,"t":7.0,"e":8.0},
{"d":"2002-05-18","g":9.0,"t":10.0,"e":11.0},
{"d":"2002-05-23","g":11.0,"t":12.0,"e":12.6},
{"d":"2002-05-28","g":11.0,"t":13.0,"e":16.0},
{"d":"2002-06-02","g":14.0,"t":16.0,"e":17.9},
{"d":"2002-06-06","g":15.0,"t":15.0,"e":17.5},
{"d":"2002-06-10","g":16.0,"t":15.0,"e":14.0},
{"d":"2002-06-14","g":19.8,"t":15.0,"e":15.0},
{"d":"2002-06-18","g":18.5,"t":13.0,"e":14.0},
{"d":"2002-06-22","g":17.2,"t":12.0,"e":11.0},
{"d":"2002-06-27","g":15.0,"t":11.0,"e":12.0},
{"d":"2002-07-01","g":14.0,"t":10.0,"e":9.5},
{"d":"2002-07-06","g":11.2,"t":11.0,"e":9.0},
{"d":"2002-07-12","g":9.0,"t":9.5,"e":8.0},
{"d":"2002-07-18","g":6.6,"t":6.4,"e":6.6},
{"d":"2002-07-24","g":5.7,"t":5.8,"e":6.1},
{"d":"2002-08-01","g":4.7,"t":4.5,"e":4.7},
{"d":"2002-08-08","g":3.8,"t":3.6,"e":3.8},
{"d":"2002-08-15","g":2.9,"t":2.7,"e":2.9},
{"d":"2002-08-22","g":2.4,"t":2.3,"e":2.4},
{"d":"2002-09-01","g":2.6,"t":2.5,"e":3.0},
{"d":"2002-09-08","g":2.2,"t":2.1,"e":2.2},
{"d":"2002-09-15","g":3.1,"t":2.9,"e":3.1},
{"d":"2002-09-22","g":3.6,"t":3.4,"e":3.6},
{"d":"2002-10-01","g":4.3,"t":4.1,"e":4.3},
{"d":"2002-10-06","g":5.4,"t":4.0,"e":4.5},
{"d":"2002-10-12","g":4.7,"t":4.5,"e":4.7},
{"d":"2002-10-18","g":3.8,"t":3.6,"e":3.8},
{"d":"2002-10-25","g":4.3,"t":4.1,"e":4.3},
{"d":"2002-11-01","g":4.5,"t":4.3,"e":4.5},
{"d":"2002-11-08","g":5.0,"t":4.8,"e":5.5},
{"d":"2002-11-15","g":6.1,"t":5.8,"e":6.5},
{"d":"2002-11-20","g":9.0,"t":7.5,"e":7.0},
{"d":"2002-11-24","g":11.8,"t":8.5,"e":8.4},
{"d":"2002-11-28","g":9.0,"t":8.5,"e":8.3},
{"d":"2002-12-03","g":7.5,"t":7.0,"e":8.2},
{"d":"2002-12-08","g":6.6,"t":6.4,"e":6.6},
{"d":"2002-12-14","g":6.1,"t":5.8,"e":6.1},
{"d":"2002-12-20","g":4.7,"t":4.5,"e":4.7},
{"d":"2002-12-27","g":5.2,"t":5.0,"e":5.2},
{"d":"2003-01-03","g":5.6,"t":5.0,"e":5.6},
{"d":"2003-01-09","g":6.2,"t":5.3,"e":5.5},
{"d":"2003-01-15","g":4.7,"t":4.5,"e":4.7},
{"d":"2003-01-22","g":3.8,"t":3.6,"e":3.8},
{"d":"2003-02-01","g":4.3,"t":4.1,"e":4.3},
{"d":"2003-02-08","g":3.6,"t":3.4,"e":3.6},
{"d":"2003-02-15","g":2.9,"t":2.7,"e":2.9},
{"d":"2003-02-22","g":4.3,"t":4.1,"e":4.3},
{"d":"2003-03-01","g":3.8,"t":3.6,"e":3.8},
{"d":"2003-03-08","g":4.2,"t":4.0,"e":4.7},
{"d":"2003-03-15","g":2.9,"t":2.7,"e":2.9},
{"d":"2003-03-22","g":2.4,"t":2.3,"e":2.4},
{"d":"2003-04-01","g":1.9,"t":1.8,"e":1.9},
{"d":"2003-04-08","g":1.6,"t":1.5,"e":1.5},
{"d":"2003-04-13","g":5.0,"t":4.0,"e":3.5},
{"d":"2003-04-16","g":10.5,"t":9.0,"e":8.0},
{"d":"2003-04-20","g":12.0,"t":14.0,"e":12.0},
{"d":"2003-04-24","g":13.0,"t":19.3,"e":14.9},
{"d":"2003-04-28","g":11.0,"t":14.0,"e":12.0},
{"d":"2003-05-03","g":8.0,"t":7.8,"e":8.0},
{"d":"2003-05-08","g":7.0,"t":6.8,"e":7.0},
{"d":"2003-05-14","g":5.6,"t":5.4,"e":5.6},
{"d":"2003-05-20","g":4.7,"t":4.5,"e":4.7},
{"d":"2003-05-26","g":5.2,"t":5.0,"e":5.2},
{"d":"2003-06-01","g":4.3,"t":4.1,"e":4.3},
{"d":"2003-06-06","g":4.7,"t":4.5,"e":4.7},
{"d":"2003-06-11","g":7.0,"t":7.0,"e":6.5},
{"d":"2003-06-16","g":8.0,"t":10.0,"e":8.0},
{"d":"2003-06-20","g":9.0,"t":12.1,"e":9.5},
{"d":"2003-06-25","g":8.0,"t":10.0,"e":9.0},
{"d":"2003-07-01","g":8.0,"t":8.5,"e":9.8},
{"d":"2003-07-06","g":8.0,"t":7.8,"e":8.0},
{"d":"2003-07-12","g":6.6,"t":6.4,"e":6.6},
{"d":"2003-07-18","g":5.6,"t":5.4,"e":5.6},
{"d":"2003-07-25","g":4.3,"t":4.1,"e":4.3},
{"d":"2003-08-01","g":3.8,"t":3.6,"e":3.8},
{"d":"2003-08-08","g":3.3,"t":3.1,"e":3.3},
{"d":"2003-08-15","g":3.1,"t":2.9,"e":3.1},
{"d":"2003-08-22","g":4.0,"t":3.8,"e":4.0},
{"d":"2003-09-01","g":4.7,"t":4.5,"e":4.7},
{"d":"2003-09-06","g":6.8,"t":5.5,"e":5.0},
{"d":"2003-09-12","g":4.7,"t":4.5,"e":4.7},
{"d":"2003-09-18","g":3.8,"t":3.6,"e":3.8},
{"d":"2003-09-25","g":2.9,"t":2.7,"e":2.9},
{"d":"2003-10-01","g":1.9,"t":1.8,"e":1.5},
{"d":"2003-10-08","g":2.2,"t":2.1,"e":2.2},
{"d":"2003-10-15","g":3.3,"t":3.1,"e":3.3},
{"d":"2003-10-22","g":4.3,"t":3.5,"e":3.5},
{"d":"2003-11-01","g":3.3,"t":3.1,"e":3.3},
{"d":"2003-11-08","g":3.1,"t":2.9,"e":3.1},
{"d":"2003-11-15","g":3.6,"t":3.4,"e":3.6},
{"d":"2003-11-22","g":3.3,"t":3.1,"e":3.3},
{"d":"2003-12-01","g":3.8,"t":3.6,"e":3.8},
{"d":"2003-12-08","g":4.0,"t":3.8,"e":4.0},
{"d":"2003-12-15","g":4.3,"t":4.1,"e":4.3},
{"d":"2003-12-22","g":3.8,"t":3.6,"e":3.8},
{"d":"2004-01-01","g":5.6,"t":4.5,"e":4.5},
{"d":"2004-01-08","g":4.6,"t":4.8,"e":5.0},
{"d":"2004-01-15","g":4.7,"t":4.5,"e":4.7},
{"d":"2004-01-22","g":7.0,"t":6.8,"e":7.0},
{"d":"2004-01-28","g":6.0,"t":6.5,"e":6.5},
{"d":"2004-02-01","g":8.0,"t":10.0,"e":9.0},
{"d":"2004-02-05","g":14.0,"t":16.0,"e":15.0},
{"d":"2004-02-09","g":19.0,"t":22.5,"e":20.5},
{"d":"2004-02-13","g":13.0,"t":15.0,"e":14.0},
{"d":"2004-02-18","g":10.3,"t":10.0,"e":10.3},
{"d":"2004-02-24","g":8.0,"t":7.8,"e":8.0},
{"d":"2004-03-01","g":6.6,"t":6.4,"e":6.6},
{"d":"2004-03-05","g":8.2,"t":6.5,"e":6.5},
{"d":"2004-03-12","g":5.2,"t":5.0,"e":5.2},
{"d":"2004-03-18","g":4.3,"t":4.1,"e":4.3},
{"d":"2004-03-25","g":3.3,"t":3.1,"e":3.3},
{"d":"2004-04-01","g":2.6,"t":2.7,"e":2.9},
{"d":"2004-04-08","g":3.3,"t":3.1,"e":3.3},
{"d":"2004-04-15","g":4.7,"t":4.5,"e":4.7},
{"d":"2004-04-22","g":5.4,"t":5.2,"e":5.4},
{"d":"2004-04-28","g":8.0,"t":10.0,"e":9.0},
{"d":"2004-05-02","g":12.0,"t":15.0,"e":13.0},
{"d":"2004-05-06","g":17.0,"t":20.0,"e":18.6},
{"d":"2004-05-10","g":15.0,"t":19.5,"e":18.0},
{"d":"2004-05-14","g":12.0,"t":14.0,"e":14.0},
{"d":"2004-05-19","g":12.6,"t":12.0,"e":12.6},
{"d":"2004-05-24","g":9.4,"t":9.0,"e":9.4},
{"d":"2004-06-01","g":8.0,"t":7.8,"e":8.4},
{"d":"2004-06-06","g":8.0,"t":8.0,"e":8.9},
{"d":"2004-06-12","g":8.0,"t":7.8,"e":8.0},
{"d":"2004-06-18","g":8.0,"t":7.0,"e":7.0},
{"d":"2004-06-25","g":8.0,"t":6.5,"e":6.5},
{"d":"2004-07-01","g":5.2,"t":5.0,"e":5.2},
{"d":"2004-07-08","g":4.7,"t":4.5,"e":4.7},
{"d":"2004-07-15","g":5.0,"t":4.8,"e":5.0},
{"d":"2004-07-22","g":4.3,"t":4.1,"e":4.3},
{"d":"2004-08-01","g":3.3,"t":3.1,"e":3.3},
{"d":"2004-08-08","g":2.6,"t":2.5,"e":2.6},
{"d":"2004-08-15","g":2.4,"t":2.3,"e":2.4},
{"d":"2004-08-22","g":2.2,"t":2.1,"e":2.2},
{"d":"2004-09-01","g":1.9,"t":1.8,"e":1.9},
{"d":"2004-09-08","g":2.4,"t":2.3,"e":2.4},
{"d":"2004-09-15","g":2.9,"t":2.7,"e":2.9},
{"d":"2004-09-22","g":3.3,"t":3.1,"e":3.3},
{"d":"2004-10-01","g":3.8,"t":3.6,"e":3.8},
{"d":"2004-10-08","g":4.0,"t":3.8,"e":4.0},
{"d":"2004-10-15","g":4.3,"t":4.1,"e":4.3},
{"d":"2004-10-20","g":6.3,"t":5.0,"e":5.0},
{"d":"2004-10-26","g":4.7,"t":4.5,"e":4.7},
{"d":"2004-11-01","g":4.5,"t":4.3,"e":4.5},
{"d":"2004-11-07","g":5.2,"t":5.0,"e":5.2},
{"d":"2004-11-13","g":4.3,"t":4.1,"e":4.3},
{"d":"2004-11-19","g":5.0,"t":6.8,"e":5.5},
{"d":"2004-11-25","g":4.3,"t":4.1,"e":4.3},
{"d":"2004-12-01","g":3.3,"t":3.1,"e":3.3},
{"d":"2004-12-08","g":4.0,"t":3.5,"e":3.5},
{"d":"2004-12-15","g":4.0,"t":3.0,"e":3.2},
{"d":"2004-12-22","g":3.1,"t":2.9,"e":3.1},
{"d":"2005-01-01","g":2.9,"t":2.7,"e":2.9},
{"d":"2005-01-08","g":2.6,"t":2.5,"e":2.6},
{"d":"2005-01-15","g":3.1,"t":2.9,"e":3.1},
{"d":"2005-01-22","g":2.6,"t":2.5,"e":2.6},
{"d":"2005-02-01","g":3.3,"t":3.0,"e":3.0},
{"d":"2005-02-08","g":3.3,"t":3.1,"e":3.3},
{"d":"2005-02-15","g":4.0,"t":3.8,"e":4.0},
{"d":"2005-02-22","g":5.6,"t":5.4,"e":5.6},
{"d":"2005-03-01","g":7.0,"t":7.0,"e":8.0},
{"d":"2005-03-05","g":9.0,"t":9.8,"e":10.7},
{"d":"2005-03-09","g":8.5,"t":9.5,"e":10.0},
{"d":"2005-03-14","g":8.0,"t":9.0,"e":9.0},
{"d":"2005-03-20","g":8.0,"t":7.8,"e":8.0},
{"d":"2005-03-26","g":6.6,"t":6.4,"e":6.6},
{"d":"2005-04-01","g":7.0,"t":6.8,"e":7.0},
{"d":"2005-04-06","g":7.0,"t":7.5,"e":8.0},
{"d":"2005-04-12","g":6.5,"t":7.0,"e":8.0},
{"d":"2005-04-18","g":7.0,"t":6.8,"e":7.0},
{"d":"2005-04-25","g":5.2,"t":5.0,"e":5.2},
{"d":"2005-05-01","g":4.3,"t":4.1,"e":4.3},
{"d":"2005-05-08","g":3.3,"t":3.1,"e":3.3},
{"d":"2005-05-15","g":2.9,"t":2.7,"e":2.9},
{"d":"2005-05-22","g":2.6,"t":2.5,"e":2.6},
{"d":"2005-05-30","g":2.9,"t":2.7,"e":2.9}
    ],
    "notesLeft": [
      {"d": "1994-06-23", "v": 66.2, "label": "Mexican peso crisis"},
      {"d": "1999-02-24", "v": 75.9, "label": "Russian default and"},
      {"d": "1999-02-24", "v": 73.0, "label": "Brazilian real crisis"},
      {"d": "2001-06-23", "v": 44.1, "label": "Terrorist attack"},
      {"d": "2001-06-23", "v": 41.2, "label": "WTC New York"}
    ],
    "notesCenter": [
      {"d": "1997-12-20", "v": 31.8, "label": "Asian financial"},
      {"d": "1997-12-08", "v": 29.0, "label": "crisis"}
    ],
    "arrows": [
      {"d": "1994-08-05", "v": 64.9, "d2": "1994-12-07", "v2": 32.4},
      {"d": "1999-09-03", "v": 71.5, "d2": "1999-02-18", "v2": 64.7},
      {"d": "1997-07-01", "v": 29.5, "d2": "1997-10-01", "v2": 21.0},
      {"d": "2001-07-17", "v": 38.0, "d2": "2001-08-28", "v2": 15.1}
    ],
    "headMex": [{"d": "1994-12-07", "v": 32.4}],
    "headRus": [{"d": "1999-02-18", "v": 64.7}],
    "headAsia": [{"d": "1997-10-01", "v": 21.0}],
    "headWtc": [{"d": "2001-08-28", "v": 15.1}]
  },
  "encoding": {
    "x": {
      "field": "d", "type": "temporal", "title": null,
      "scale": {"type": "utc", "domain": [{"year": 1994, "month": 1, "date": 3, "utc": true}, {"year": 2005, "month": 6, "date": 10, "utc": true}]},
      "axis": {
        "labelExpr": "utcFormat(datum.value, '%d/%m/%y')", "labelAngle": 270, "labelAlign": "right", "labelBaseline": "middle",
        "labelPadding": 4, "labelOverlap": false, "labelFlush": false, "labelBound": false,
        "values": [
          {"year":1994,"month":1,"date":3,"utc":true},{"year":1994,"month":5,"date":3,"utc":true},{"year":1994,"month":9,"date":3,"utc":true},
          {"year":1995,"month":1,"date":3,"utc":true},{"year":1995,"month":5,"date":3,"utc":true},{"year":1995,"month":9,"date":3,"utc":true},
          {"year":1996,"month":1,"date":3,"utc":true},{"year":1996,"month":5,"date":3,"utc":true},{"year":1996,"month":9,"date":3,"utc":true},
          {"year":1997,"month":1,"date":3,"utc":true},{"year":1997,"month":5,"date":3,"utc":true},{"year":1997,"month":9,"date":3,"utc":true},
          {"year":1998,"month":1,"date":3,"utc":true},{"year":1998,"month":5,"date":3,"utc":true},{"year":1998,"month":9,"date":3,"utc":true},
          {"year":1999,"month":1,"date":3,"utc":true},{"year":1999,"month":5,"date":3,"utc":true},{"year":1999,"month":9,"date":3,"utc":true},
          {"year":2000,"month":1,"date":3,"utc":true},{"year":2000,"month":5,"date":3,"utc":true},{"year":2000,"month":9,"date":3,"utc":true},
          {"year":2001,"month":1,"date":3,"utc":true},{"year":2001,"month":5,"date":3,"utc":true},{"year":2001,"month":9,"date":3,"utc":true},
          {"year":2002,"month":1,"date":3,"utc":true},{"year":2002,"month":5,"date":3,"utc":true},{"year":2002,"month":9,"date":3,"utc":true},
          {"year":2003,"month":1,"date":3,"utc":true},{"year":2003,"month":5,"date":3,"utc":true},{"year":2003,"month":9,"date":3,"utc":true},
          {"year":2004,"month":1,"date":3,"utc":true},{"year":2004,"month":5,"date":3,"utc":true},{"year":2004,"month":9,"date":3,"utc":true},
          {"year":2005,"month":1,"date":3,"utc":true},{"year":2005,"month":5,"date":3,"utc":true}
        ]
      }
    }
  },
  "layer": [
    {
      "data": {"name": "vol"},
      "mark": {"type": "line", "strokeWidth": 2, "clip": true},
      "encoding": {
        "y": {
          "field": "g", "type": "quantitative", "title": null,
          "scale": {"domain": [0, 80], "nice": false, "zero": true},
          "axis": {"values": [0, 10, 20, 30, 40, 50, 60, 70, 80], "labelPadding": 7, "labelFontSize": 17}
        },
        "color": {
          "datum": "GARCH", "type": "nominal",
          "scale": {"domain": ["GARCH", "TGARCH", "EGARCH"], "range": ["#000080", "#FF00FF", "#FFFF00"]},
          "legend": {
            "orient": "none", "legendX": 364, "legendY": 672, "direction": "horizontal", "title": null,
            "symbolType": "M-3.4,0L3.4,0", "symbolSize": 100, "symbolStrokeWidth": 2, "symbolOffset": 12,
            "labelOffset": 12, "labelFontSize": 17, "labelFont": "Liberation Sans", "labelColor": "black",
            "strokeColor": "#333333", "fillColor": "white", "padding": 5, "columnPadding": 4
          }
        }
      }
    },
    {
      "data": {"name": "vol"},
      "mark": {"type": "line", "strokeWidth": 2, "clip": true},
      "encoding": {
        "y": {"field": "t", "type": "quantitative", "title": null},
        "color": {"datum": "TGARCH", "type": "nominal"}
      }
    },
    {
      "data": {"name": "vol"},
      "mark": {"type": "line", "strokeWidth": 2, "clip": true},
      "encoding": {
        "y": {"field": "e", "type": "quantitative", "title": null},
        "color": {"datum": "EGARCH", "type": "nominal"}
      }
    },
    {
      "data": {"name": "arrows"},
      "mark": {"type": "rule", "color": "black", "strokeWidth": 1.6},
      "encoding": {
        "y": {"field": "v", "type": "quantitative", "title": null},
        "x2": {"field": "d2"},
        "y2": {"field": "v2"}
      }
    },
    {
      "data": {"name": "headMex"},
      "mark": {"type": "point", "shape": "triangle-down", "size": 100, "filled": true, "color": "black", "opacity": 1, "angle": -7.9},
      "encoding": {"y": {"field": "v", "type": "quantitative", "title": null}}
    },
    {
      "data": {"name": "headRus"},
      "mark": {"type": "point", "shape": "triangle-down", "size": 100, "filled": true, "color": "black", "opacity": 1, "angle": 46.4},
      "encoding": {"y": {"field": "v", "type": "quantitative", "title": null}}
    },
    {
      "data": {"name": "headAsia"},
      "mark": {"type": "point", "shape": "triangle-down", "size": 100, "filled": true, "color": "black", "opacity": 1, "angle": -21},
      "encoding": {"y": {"field": "v", "type": "quantitative", "title": null}}
    },
    {
      "data": {"name": "headWtc"},
      "mark": {"type": "point", "shape": "triangle-down", "size": 100, "filled": true, "color": "black", "opacity": 1, "angle": -3.7},
      "encoding": {"y": {"field": "v", "type": "quantitative", "title": null}}
    },
    {
      "data": {"name": "notesLeft"},
      "mark": {"type": "text", "align": "left", "baseline": "alphabetic", "fontSize": 17, "font": "Liberation Sans", "color": "black"},
      "encoding": {
        "y": {"field": "v", "type": "quantitative", "title": null},
        "text": {"field": "label"}
      }
    },
    {
      "data": {"name": "notesCenter"},
      "mark": {"type": "text", "align": "center", "baseline": "alphabetic", "fontSize": 17, "font": "Liberation Sans", "color": "black"},
      "encoding": {
        "y": {"field": "v", "type": "quantitative", "title": null},
        "text": {"field": "label"}
      }
    }
  ]
}
